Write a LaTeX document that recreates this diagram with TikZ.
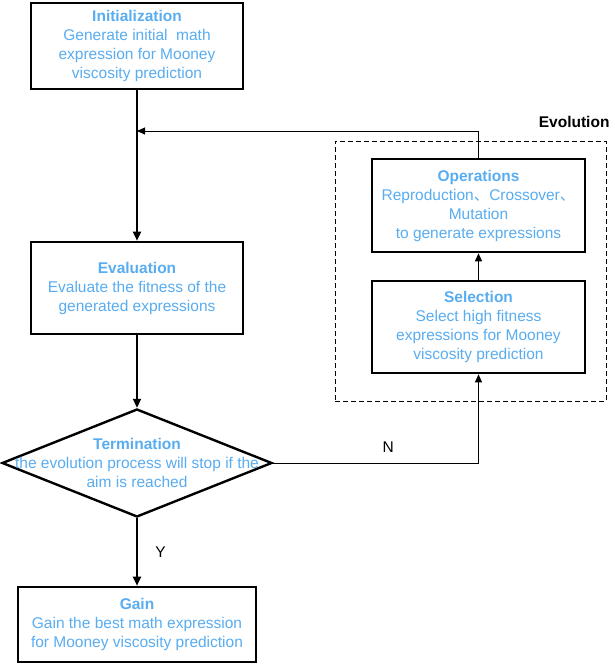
\documentclass[tikz,border=0pt]{standalone}
\usepackage{fontspec}
\setmainfont{Liberation Sans}
\newfontfamily\cjk{Noto Sans CJK SC}
\usetikzlibrary{shapes.geometric,arrows.meta,positioning}
\definecolor{txtblue}{RGB}{88,172,240}
\tikzset{
    %Define standard arrow tip
    >={Triangle[length=9pt,width=8pt]},
    box/.style={draw, line width=2.6pt, inner sep=0pt, align=center, text=txtblue,
        font=\fontsize{15.5}{19}\selectfont},
    cond/.style={diamond, draw, line width=2.4pt, inner sep=0pt},
    flow/.style={->, line width=1.9pt},
    thinflow/.style={->, line width=0.9pt, >={Triangle[length=8pt,width=7pt]}},
    lbl/.style={font=\fontsize{15.5}{19}\selectfont}
}
\newcommand{\ttl}[1]{\textbf{#1}}

\begin{document}
\begin{tikzpicture}[x=1pt,y=-1pt]
    \useasboundingbox (0,0) rectangle (614,666);

    % main column
    \node[box, minimum width=212pt, minimum height=86pt] (init) at (137,46)
        {\ttl{Initialization}\\Generate initial\ \ math\\expression for Mooney\\viscosity prediction};
    \node[box, minimum width=212pt, minimum height=92pt] (eval) at (137,288)
        {\ttl{Evaluation}\\Evaluate the fitness of the\\generated expressions};
    \node[cond, minimum width=270pt, minimum height=108pt] (term) at (137,463) {};
    \node[align=center, text=txtblue, font=\fontsize{15.5}{19}\selectfont, inner sep=0pt] (termtxt) at (term.center)
        {\ttl{Termination}\\the evolution process will stop if the\\aim is reached};
    \node[box, minimum width=238pt, minimum height=75pt] (gain) at (137,624.5)
        {\ttl{Gain}\\Gain the best math expression\\for Mooney viscosity prediction};

    % evolution loop
    \node[draw, line width=0.9pt, dash pattern=on 5pt off 3pt, minimum width=271pt, minimum height=260pt] (evo) at (470.5,271) {};
    \node[lbl, font=\fontsize{15.5}{19}\selectfont\bfseries, anchor=east] (evotxt) at (613,122) {Evolution};
    \node[box, minimum width=213pt, minimum height=93pt] (ops) at (478.5,205.5)
        {\ttl{Operations}\\Reproduction{\cjk 、}Crossover{\cjk 、}\\Mutation\\to generate expressions};
    \node[box, minimum width=213pt, minimum height=92pt] (sel) at (478.5,327)
        {\ttl{Selection}\\Select high fitness\\expressions for Mooney\\viscosity prediction};
    \coordinate (join) at (137,131);

    \draw[flow] (init) -- (eval);
    \draw[flow] (eval) -- (term);
    \draw[flow] (term) -- node[lbl, right=14pt] (ylbl) {Y} (gain);
    \draw[thinflow] (term.east) -| node[lbl, pos=0.28, above=7pt] (nlbl) {N} (sel.south);
    \draw[thinflow] (sel) -- (ops);
    \draw[thinflow] (ops.north) |- (join);
\end{tikzpicture}
\end{document}
